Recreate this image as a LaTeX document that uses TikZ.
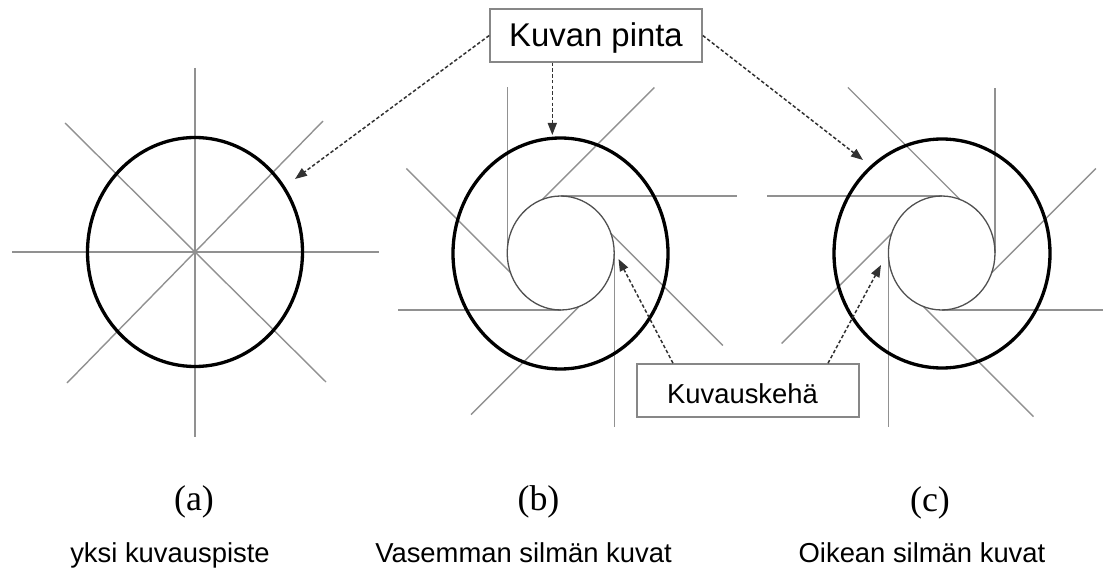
\documentclass[tikz,border=0pt]{standalone}
\usepackage{fontspec}
\setmainfont{Liberation Serif}
\setsansfont{Liberation Sans}
\usetikzlibrary{arrows.meta,calc}
\definecolor{linegray}{RGB}{145,145,145}
\definecolor{innergray}{RGB}{80,80,80}
\definecolor{arrowgray}{RGB}{50,50,50}
\definecolor{boxgray}{RGB}{135,135,135}
\tikzset{
  ray/.style={draw=linegray, line width=1.4bp},
  outerring/.style={draw=black, line width=3.3bp},
  innerring/.style={draw=innergray, line width=1.3bp},
  callout/.style={draw=arrowgray, line width=1.5bp, dash pattern=on 3.5bp off 2.2bp,
    -{Triangle[length=12bp,width=9bp]}},
  labelbox/.style={draw=boxgray, line width=1.6bp, fill=white, inner sep=0pt,
    font=\sffamily},
  caption/.style={font=\sffamily\fontsize{27.5}{30}\selectfont, anchor=base},
  letter/.style={font=\rmfamily\fontsize{36}{40}\selectfont, anchor=base},
}
\begin{document}
\begin{tikzpicture}[x=1bp,y=-1bp]
\useasboundingbox (0,0) rectangle (1115,576);

% ---------- (a) ----------
\coordinate (ca) at (195,252);
\draw[ray] (195,68) -- (195,437);
\draw[ray] (12,252) -- (379,252);
\draw[ray] (65,123) -- (326,382);
\draw[ray] (323,121) -- (67,383);
\draw[outerring] (ca) ellipse [x radius=107.5bp, y radius=114.5bp];

% ---------- (b) ----------
\coordinate (cb) at (560.7,253);
\draw[ray] ($(cb)+(180:53.5bp and 57bp)$) -- ++(0,-166);
\draw[ray] ($(cb)+(90:53.5bp and 57bp)$) -- ++(176,0);
\draw[ray] ($(cb)+(0:53.5bp and 57bp)$) -- ++(0,174);
\draw[ray] ($(cb)+(270:53.5bp and 57bp)$) -- ++(-163,0);
\draw[ray] ($(cb)+(110:53.5bp and 57bp)$) -- ++(112,-112);
\draw[ray] ($(cb)+(20:53.5bp and 57bp)$) -- ++(112,112);
\draw[ray] ($(cb)+(290:53.5bp and 57bp)$) -- ++(-108,108);
\draw[ray] ($(cb)+(200:53.5bp and 57bp)$) -- ++(-104,-104);
\draw[innerring] (cb) ellipse [x radius=53.5bp, y radius=57bp];
\draw[outerring] (560.5,253.5) ellipse [x radius=107.5bp, y radius=115.5bp];

% ---------- (c) ----------
\coordinate (cc) at (941.7,253);
\draw[ray] ($(cc)+(0:53.3bp and 57bp)$) -- ++(0,-165);
\draw[ray] ($(cc)+(90:53.3bp and 57bp)$) -- ++(-175,0);
\draw[ray] ($(cc)+(180:53.3bp and 57bp)$) -- ++(0,174);
\draw[ray] ($(cc)+(270:53.3bp and 57bp)$) -- ++(161,0);
\draw[ray] ($(cc)+(70:53.3bp and 57bp)$) -- ++(-112,-112);
\draw[ray] ($(cc)+(160:53.3bp and 57bp)$) -- ++(-110,110);
\draw[ray] ($(cc)+(250:53.3bp and 57bp)$) -- ++(110,110);
\draw[ray] ($(cc)+(340:53.3bp and 57bp)$) -- ++(104,-104);
\draw[innerring] (cc) ellipse [x radius=53.3bp, y radius=57bp];
\draw[outerring] (942,253.5) ellipse [x radius=108bp, y radius=114.5bp];

% ---------- callouts ----------
\node[labelbox, minimum width=212bp, minimum height=53bp,
  text height=26bp, text depth=3.6bp,
  font=\sffamily\fontsize{33}{36}\selectfont] (kp) at (596,35.5) {Kuvan pinta};
\node[labelbox, minimum width=222bp, minimum height=53bp,
  text height=28bp, text depth=2.4bp,
  font=\sffamily\fontsize{27.5}{30}\selectfont] (kk) at (748,390.5) {Kuvauskehä\hspace*{11bp}};

\coordinate (ta) at (295,179);
\coordinate (tb) at (552.3,135);
\coordinate (tc) at (863,160);
\coordinate (tbi) at (618.5,259);
\coordinate (tci) at (881,265);

\draw[callout] (kp.west) -- (ta);
\draw[callout] (kp.south -| tb) -- (tb);
\draw[callout] (kp.east) -- (tc);
\draw[callout] ([xshift=-75bp]kk.north) -- (tbi);
\draw[callout] ([xshift=80bp]kk.north) -- (tci);

% ---------- captions ----------
\node[letter] (la) at (194,510) {(a)};
\node[letter] (lb) at (538.5,510) {(b)};
\node[letter] (lc) at (930,511) {(c)};
\node[caption] (na) at (170,562.5) {yksi kuvauspiste};
\node[caption] (nb) at (523.5,562) {Vasemman silmän kuvat};
\node[caption] (nc) at (922,562) {Oikean silmän kuvat};
\end{tikzpicture}
\end{document}
